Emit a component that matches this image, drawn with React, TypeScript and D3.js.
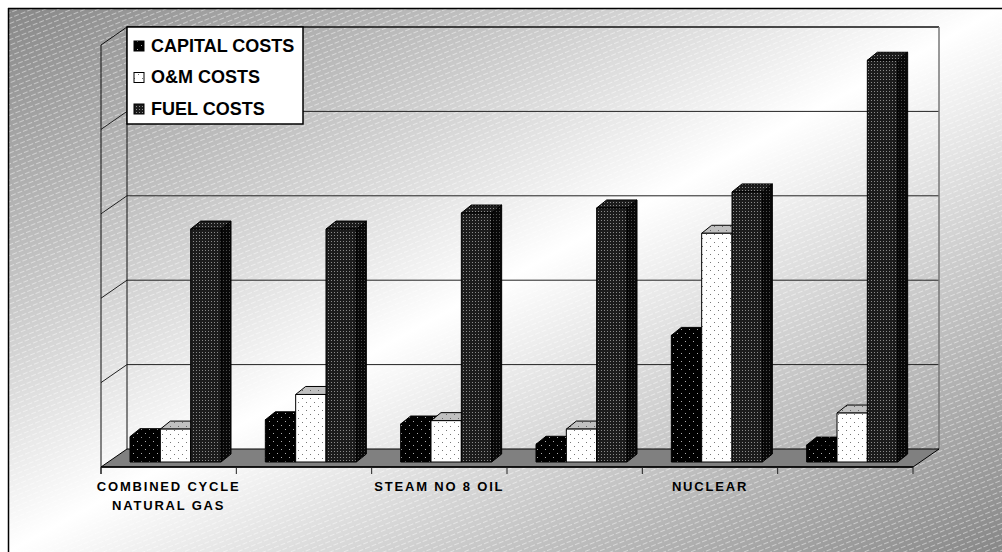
import React from 'react';
import * as d3 from 'd3';

// ---- data ----
const categoryIds = ['cc-gas', 'cat-2', 'steam-oil', 'cat-4', 'nuclear', 'cat-6'];
const categoryLabels = [['COMBINED CYCLE', 'NATURAL GAS'], [], ['STEAM NO 8 OIL'], [], ['NUCLEAR'], []];
const seriesNames = ['CAPITAL COSTS', 'O&M COSTS', 'FUEL COSTS'];
const capitalCosts = [3.0, 5.0, 4.5, 2.1, 15.0, 2.0];
const omCosts = [3.9, 8.0, 4.9, 3.9, 27.1, 5.8];
const fuelCosts = [27.6, 27.6, 29.5, 30.1, 32.0, 47.6];
const valueTicks = [0, 10, 20, 30, 40, 50];

const seriesValues = [capitalCosts, omCosts, fuelCosts];
const seriesStyle = [
  { front: 'url(#capFront)', top: 'url(#capFront)', side: 'url(#capSide)' },
  { front: 'url(#omFront)', top: 'url(#omTop)', side: 'url(#omSide)' },
  { front: 'url(#fuelFront)', top: 'url(#fuelFront)', side: 'url(#fuelSide)' },
];

// ---- layout ----
const W = 1002, H = 552;
const FRONT_LEFT = 101, FRONT_RIGHT = 913, FLOOR_Y = 467;
const DX = 26, DY = -18; // wall depth
const BOX = { x: 20, y: -5 }; // bar front plane offset from floor front
const BD = { x: 10, y: -8 }; // bar depth
const PLOT_H = 422;

export default function App() {
  const x = d3.scaleBand<number>().domain(d3.range(categoryIds.length)).range([FRONT_LEFT, FRONT_RIGHT]).paddingInner(0).paddingOuter(0);
  const inner = d3.scaleBand<number>().domain(d3.range(seriesNames.length)).range([22, 22 + 91]);
  const h = d3.scaleLinear().domain([0, 50]).range([0, PLOT_H]);
  const backY = FLOOR_Y + DY;
  const backL = FRONT_LEFT + DX;
  const backR = FRONT_RIGHT + DX;
  const baseY = FLOOR_Y + BOX.y;

  const bars: JSX.Element[] = [];
  categoryIds.forEach((_, ci) => {
    seriesValues.forEach((vals, si) => {
      const x0 = (x(ci) as number) + (inner(si) as number) + 7;
      const w = inner.bandwidth();
      const yt = baseY - h(vals[ci]);
      const yb = baseY;
      const st = seriesStyle[si];
      bars.push(
        <g key={`${ci}-${si}`} stroke="#000" strokeWidth={1} strokeLinejoin="round">
          <polygon points={`${x0 + w},${yt} ${x0 + w + BD.x},${yt + BD.y} ${x0 + w + BD.x},${yb + BD.y} ${x0 + w},${yb}`} fill={st.side} />
          <polygon points={`${x0},${yt} ${x0 + w},${yt} ${x0 + w + BD.x},${yt + BD.y} ${x0 + BD.x},${yt + BD.y}`} fill={st.top} />
          <rect x={x0} y={yt} width={w} height={yb - yt} fill={st.front} />
        </g>
      );
    });
  });

  const ticks = d3.range(categoryIds.length + 1).map((i) => FRONT_LEFT + i * x.bandwidth());

  return (
    <svg width={W} height={H} style={{ position: 'absolute', left: 0, top: 0, display: 'block' }} fontFamily="'Liberation Sans', Arial, sans-serif">
      <defs>
        <linearGradient id="bg" x1="0" y1="0" x2="1" y2="1">
          <stop offset="0" stopColor="#878787" />
          <stop offset="0.5" stopColor="#ffffff" />
          <stop offset="1" stopColor="#878787" />
        </linearGradient>
        <pattern id="stripes" width="7" height="5" patternUnits="userSpaceOnUse" patternTransform="rotate(-22)">
          <line x1="0" y1="0.5" x2="5" y2="0.5" stroke="#fff" strokeOpacity="0.45" strokeWidth="1" />
        </pattern>
        <pattern id="capFront" width="8" height="8" patternUnits="userSpaceOnUse">
          <rect width="8" height="8" fill="#000" />
          <rect x="1" y="1" width="1" height="1" fill="#aaa" />
          <rect x="5" y="5" width="1" height="1" fill="#aaa" />
        </pattern>
        <pattern id="capSide" width="8" height="8" patternUnits="userSpaceOnUse">
          <rect width="8" height="8" fill="#000" />
          <rect x="1" y="1" width="1" height="1" fill="#666" />
        </pattern>
        <pattern id="omFront" width="8" height="8" patternUnits="userSpaceOnUse">
          <rect width="8" height="8" fill="#fff" />
          <rect x="2" y="2" width="1" height="1" fill="#777" />
          <rect x="6" y="6" width="1" height="1" fill="#777" />
        </pattern>
        <pattern id="omTop" width="8" height="8" patternUnits="userSpaceOnUse">
          <rect width="8" height="8" fill="#c0c0c0" />
          <rect x="2" y="2" width="1" height="1" fill="#666" />
          <rect x="6" y="6" width="1" height="1" fill="#666" />
        </pattern>
        <pattern id="omSide" width="8" height="8" patternUnits="userSpaceOnUse">
          <rect width="8" height="8" fill="#999" />
          <rect x="2" y="2" width="1" height="1" fill="#555" />
        </pattern>
        <pattern id="fuelFront" width="3" height="3" patternUnits="userSpaceOnUse">
          <rect width="3" height="3" fill="#1c1c1c" />
          <rect x="1" y="1" width="1" height="1" fill="#8a8a8a" />
        </pattern>
        <pattern id="fuelSide" width="3" height="3" patternUnits="userSpaceOnUse">
          <rect width="3" height="3" fill="#080808" />
          <rect x="1" y="1" width="1" height="1" fill="#4a4a4a" />
        </pattern>
      </defs>

      {/* page background */}
      <rect x={0} y={0} width={W} height={H} fill="#fff" />
      <rect x={8} y={8} width={W - 8} height={H - 8} fill="url(#bg)" />
      <rect x={8} y={8} width={W - 8} height={H - 8} fill="url(#stripes)" />
      <line x1={8} y1={8.5} x2={W} y2={8.5} stroke="#000" strokeWidth={1.5} />
      <line x1={8.5} y1={8} x2={8.5} y2={H} stroke="#000" strokeWidth={1.5} />

      {/* walls */}
      <g fill="none">
        {valueTicks.slice(1, -1).map((t) => (
          <g key={t} stroke="#222" strokeWidth={1}>
            <line x1={backL} y1={backY - h(t)} x2={backR} y2={backY - h(t)} />
            <line x1={backL} y1={backY - h(t)} x2={FRONT_LEFT} y2={FLOOR_Y - h(t)} />
          </g>
        ))}
        <line x1={backL} y1={backY - PLOT_H} x2={backR} y2={backY - PLOT_H} stroke="#111" strokeWidth={1.5} />
        <line x1={backL} y1={backY - PLOT_H} x2={FRONT_LEFT} y2={FLOOR_Y - PLOT_H} stroke="#111" strokeWidth={1} />
        <line x1={backL} y1={backY - PLOT_H} x2={backL} y2={backY} stroke="#111" strokeWidth={1} />
        <line x1={backR} y1={backY - PLOT_H} x2={backR} y2={backY} stroke="#777" strokeWidth={1.5} />
        <line x1={FRONT_LEFT} y1={FLOOR_Y - PLOT_H} x2={FRONT_LEFT} y2={FLOOR_Y + 7} stroke="#111" strokeWidth={1} />
      </g>

      {/* floor */}
      <polygon
        points={`${FRONT_LEFT},${FLOOR_Y} ${backL},${backY} ${backR},${backY} ${FRONT_RIGHT},${FLOOR_Y}`}
        fill="#808080"
        stroke="#000"
        strokeWidth={1}
      />
      <line x1={FRONT_LEFT} y1={FLOOR_Y} x2={FRONT_RIGHT} y2={FLOOR_Y} stroke="#000" strokeWidth={1.5} />
      {ticks.map((tx, i) => (
        <line key={i} x1={tx} y1={FLOOR_Y} x2={tx} y2={FLOOR_Y + 7} stroke="#222" strokeWidth={1} />
      ))}

      {/* bars */}
      {bars}

      {/* category labels */}
      {categoryLabels.map((lines, ci) => (
        <text key={ci} x={(x(ci) as number) + x.bandwidth() / 2} y={491} textAnchor="middle" fontSize={13} fontWeight="bold" letterSpacing={1.8} fill="#000">
          {lines.map((ln, li) => (
            <tspan key={li} x={(x(ci) as number) + x.bandwidth() / 2} dy={li === 0 ? 0 : 19}>{ln}</tspan>
          ))}
        </text>
      ))}

      {/* legend */}
      <g>
        <rect x={127} y={27} width={176} height={97} fill="#fff" stroke="#000" strokeWidth={1.5} />
        {seriesNames.map((name, i) => (
          <g key={name}>
            <rect x={134} y={41 + i * 31.5} width={10} height={10} fill={seriesStyle[i].front} stroke="#000" strokeWidth={1} />
            <text x={151} y={51.5 + i * 31.5} fontSize={18} fontWeight="bold" fill="#000">{name}</text>
          </g>
        ))}
      </g>
    </svg>
  );
}
